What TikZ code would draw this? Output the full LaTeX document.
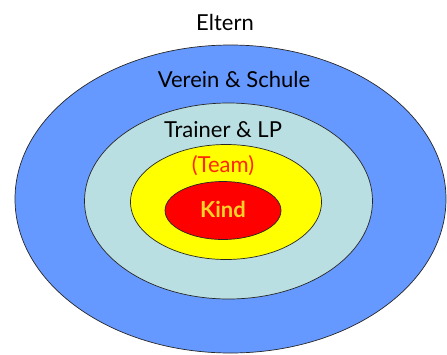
\documentclass[tikz,border=0pt]{standalone}
\usepackage{fontspec}
\setmainfont{Lato}
\usetikzlibrary{shapes.geometric}
\definecolor{ringblue}{RGB}{102,153,255}
\definecolor{ringteal}{RGB}{185,223,226}
\definecolor{ringyellow}{RGB}{255,255,0}
\definecolor{ringred}{RGB}{255,0,0}
\definecolor{kindgold}{RGB}{255,210,40}
\definecolor{teamred}{RGB}{255,40,0}

\begin{document}
\begin{tikzpicture}[x=1pt, y=-1pt, every node/.style={font=\fontsize{22}{26}\selectfont},
    ring/.style={ellipse, draw=black!85, line width=0.7pt, inner sep=0pt}]
  \useasboundingbox (0,0) rectangle (447,354);

  % Rings from outside to inside
  \node[ring, fill=ringblue, minimum width=431pt, minimum height=308pt]
    (verein) at (230.5,199) {};
  \node[ring, fill=ringteal, minimum width=288pt, minimum height=196pt]
    (trainer) at (228.5,201) {};
  \node[ring, fill=ringyellow, minimum width=191pt, minimum height=115pt]
    (team) at (226,202) {};
  \node[ring, fill=ringred, minimum width=116pt, minimum height=58pt]
    (kind) at (223,210.5) {};

  % Labels
  \node (eltern lbl) at (225,22.5) {Eltern};
  \node (verein lbl) at (234,79) {Verein \& Schule};
  \node (trainer lbl) at (223,130) {Trainer \& LP};
  \node[text=teamred] (team lbl) at (223,165.5) {(Team)};
  \node[text=kindgold, font=\fontsize{22}{26}\selectfont\bfseries]
    (kind lbl) at (223,209.5) {Kind};
\end{tikzpicture}
\end{document}
